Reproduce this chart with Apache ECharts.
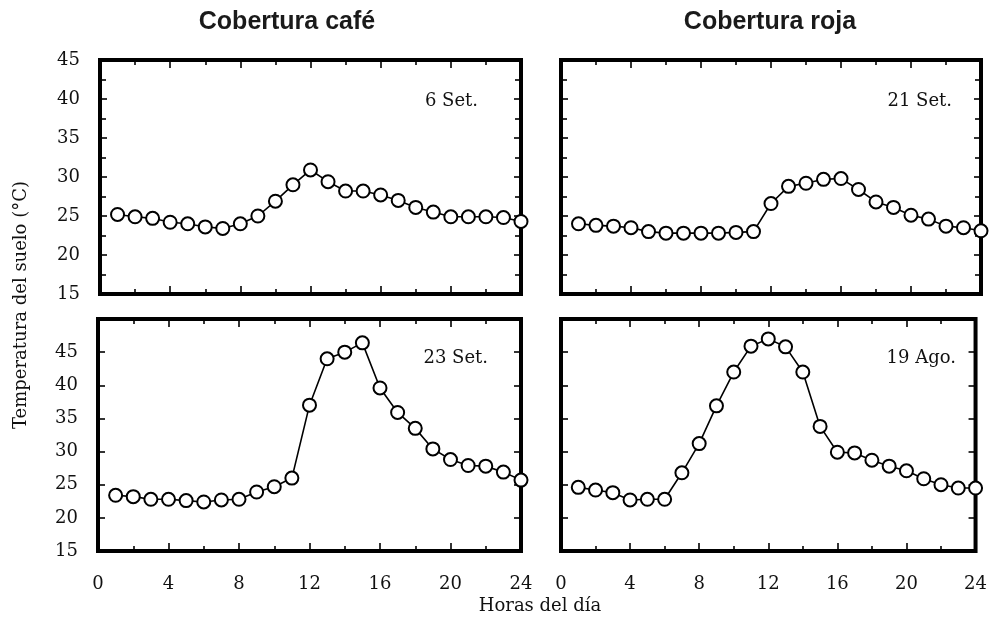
<!DOCTYPE html>
<html>
<head>
<meta charset="utf-8">
<script src="https://cdn.jsdelivr.net/npm/echarts@6/dist/echarts.min.js"></script>
<style>
html,body{margin:0;padding:0;background:#fff;}
#chart{width:990px;height:623px;}
</style>
</head>
<body>
<div id="chart"></div>
<script>
// ---- Data ----
const hours = [1,2,3,4,5,6,7,8,9,10,11,12,13,14,15,16,17,18,19,20,21,22,23,24];
const cafe6Set  = [25.2,24.9,24.7,24.2,24.0,23.6,23.4,24.0,25.0,26.9,29.0,30.9,29.4,28.2,28.2,27.7,27.0,26.1,25.5,24.9,24.9,24.9,24.8,24.3];
const roja21Set = [24.0,23.8,23.7,23.5,23.0,22.8,22.8,22.8,22.8,22.9,23.0,26.6,28.8,29.2,29.7,29.8,28.4,26.8,26.1,25.1,24.6,23.7,23.5,23.1];
const cafe23Set = [23.4,23.2,22.8,22.8,22.6,22.4,22.7,22.8,23.9,24.7,26.0,37.0,44.0,45.0,46.4,39.6,35.9,33.5,30.4,28.8,27.9,27.8,26.9,25.7];
const roja19Ago = [24.6,24.2,23.8,22.7,22.8,22.8,26.8,31.2,36.9,42.0,45.9,47.0,45.8,42.0,33.8,29.9,29.8,28.7,27.8,27.1,25.9,25.0,24.5,24.5];
const panelSeries = [cafe6Set, roja21Set, cafe23Set, roja19Ago];
const panelLabels = ['6 Set.', '21 Set.', '23 Set.', '19 Ago.'];
const columnTitles = ['Cobertura café', 'Cobertura roja'];
const yTitle = 'Temperatura del suelo (°C)';
const xTitle = 'Horas del día';
const xTicks = {min: 0, max: 24, step: 4};
const yTicksTop = {min: 15, max: 45, step: 5};
const yTicksBottom = {min: 15, max: 50, step: 5, lastLabel: 45};

// ---- Layout ----
const grids = [
  {left: 100, top: 60,  width: 421, height: 234},
  {left: 561, top: 60,  width: 420, height: 234},
  {left: 98,  top: 319, width: 423, height: 232},
  {left: 561, top: 319, width: 420, height: 232}
];
const labelPos = [[478, 101], [952, 101], [488, 358], [956, 358]];
const serif = 'DejaVu Serif';
const black = '#000';
const tickStyle = {color: black, width: 1.6};

const xAxes = [], yAxes = [], series = [];
grids.forEach((g, i) => {
  const isBottom = i >= 2, isLeft = (i % 2) === 0;
  ['bottom', 'top'].forEach(pos => {
    xAxes.push({
      type: 'value', gridIndex: i, position: pos,
      min: xTicks.min, max: xTicks.max, interval: xTicks.step,
      axisLine: {show: false, onZero: false}, splitLine: {show: false},
      axisTick: {show: true, inside: true, length: 8, lineStyle: tickStyle},
      minorTick: {show: true, splitNumber: 2, length: 5, lineStyle: tickStyle},
      axisLabel: {show: isBottom && pos === 'bottom', margin: 24, fontFamily: serif, fontSize: 18, color: '#111'}
    });
  });
  const yt = isBottom ? yTicksBottom : yTicksTop;
  ['left', 'right'].forEach(pos => {
    yAxes.push({
      type: 'value', gridIndex: i, position: pos,
      min: yt.min, max: yt.max, interval: yt.step,
      axisLine: {show: false, onZero: false}, splitLine: {show: false},
      axisTick: {show: true, inside: true, length: 7, lineStyle: tickStyle},
      minorTick: {show: !isBottom, splitNumber: 2, length: 6, lineStyle: tickStyle},
      axisLabel: {
        show: isLeft && pos === 'left', margin: 20, fontFamily: serif, fontSize: 18, color: '#111',
        formatter: v => (yt.lastLabel !== undefined && v > yt.lastLabel) ? '' : String(v)
      }
    });
  });
  series.push({
    type: 'line', xAxisIndex: 2 * i, yAxisIndex: 2 * i,
    data: hours.map((h, k) => [h, panelSeries[i][k]]),
    symbol: 'circle', symbolSize: 13, clip: false, animation: false,
    lineStyle: {color: black, width: 1.6},
    itemStyle: {color: '#fff', borderColor: black, borderWidth: 2}
  });
});

const graphic = [];
panelLabels.forEach((t, i) => {
  graphic.push({type: 'text', x: labelPos[i][0], y: labelPos[i][1],
    style: {text: t, font: '18px "' + serif + '"', fill: '#111', textAlign: 'right', textVerticalAlign: 'middle'}});
});
graphic.push({type: 'text', x: 287, y: 22,
  style: {text: columnTitles[0], font: 'bold 25px "Liberation Sans"', fill: '#1a1a1a', textAlign: 'center', textVerticalAlign: 'middle'}});
graphic.push({type: 'text', x: 770, y: 22,
  style: {text: columnTitles[1], font: 'bold 25px "Liberation Sans"', fill: '#1a1a1a', textAlign: 'center', textVerticalAlign: 'middle'}});
graphic.push({type: 'text', x: 540, y: 606,
  style: {text: xTitle, font: '18px "' + serif + '"', fill: '#111', textAlign: 'center', textVerticalAlign: 'middle'}});
graphic.push({type: 'text', x: 21, y: 305, rotation: Math.PI / 2,
  style: {text: yTitle, font: '18px "' + serif + '"', fill: '#111', textAlign: 'center', textVerticalAlign: 'middle'}});

const chart = echarts.init(document.getElementById('chart'), null, {renderer: 'canvas'});
chart.setOption({
  animation: false,
  backgroundColor: '#fff',
  grid: grids.map(g => Object.assign({show: true, borderColor: black, borderWidth: 4, backgroundColor: 'transparent'}, g)),
  xAxis: xAxes,
  yAxis: yAxes,
  series: series,
  graphic: graphic
});
</script>
</body>
</html>
